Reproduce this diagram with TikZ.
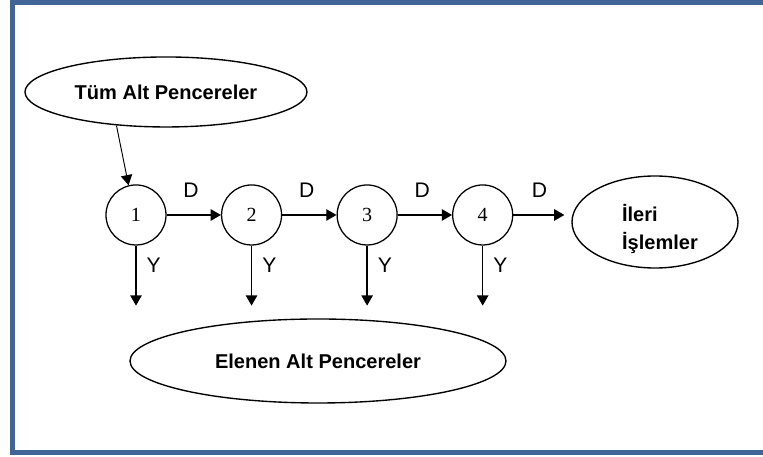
\documentclass[tikz,border=0pt]{standalone}
\usepackage{fontspec}
\setmainfont{Liberation Serif}
\setsansfont{Liberation Sans}
\usetikzlibrary{positioning,shapes.geometric,arrows.meta}
\definecolor{frameblue}{RGB}{66,101,152}
\begin{document}
\begin{tikzpicture}[
    >={Triangle[length=0.34cm,width=0.38cm]},
    durum/.style={circle,draw,line width=1.2pt,minimum size=2cm,inner sep=0pt,
      font=\fontsize{19}{22}\selectfont},
    kume/.style={ellipse,draw,line width=1.3pt,inner sep=0pt,
      font=\sffamily\bfseries\fontsize{19}{26}\selectfont},
    etiket/.style={font=\sffamily\fontsize{20}{24}\selectfont},
    ok/.style={->,line width=1.2pt}
  ]
    \clip (0,0) rectangle (25.433,15.233);
    \useasboundingbox (0,0) rectangle (25.433,15.233);
    \draw[frameblue,line width=0.15cm] (0.417,0.15) rectangle (25.7,15.15);

    \node[kume,minimum width=9.4cm,minimum height=2.333cm] (tum) at (5.533,12.167) {T\"um Alt Pencereler};
    \node[durum] (d1) at (4.533,8.067) {1};
    \node[durum,right=1.81cm of d1] (d2) {2};
    \node[durum,right=1.81cm of d2] (d3) {3};
    \node[durum,right=1.81cm of d3] (d4) {4};
    \node[kume,minimum width=5.533cm,minimum height=3.067cm,align=left] (ileri) at (21.833,7.833)
      {\hspace*{0.33cm}\rule{0pt}{1.05cm}\.Ileri\\\hspace*{0.33cm}\.I\c{s}lemler};
    \node[kume,minimum width=12.533cm,minimum height=2.8cm] (elenen) at (10.6,3.2) {Elenen Alt Pencereler};

    \draw[ok,line width=0.9pt] (tum.214) -- (d1.104);
    \draw[ok] (d1) -- node[etiket,above=0.45cm,pos=0.45] {D} (d2);
    \draw[ok] (d2) -- node[etiket,above=0.45cm,pos=0.45] {D} (d3);
    \draw[ok] (d3) -- node[etiket,above=0.45cm,pos=0.45] {D} (d4);
    \draw[ok,shorten >=0.23cm] (d4.east) -- node[etiket,above=0.45cm,pos=0.45] {D} (d4.east -| ileri.west);

    \foreach \i in {1,...,4} {
      \coordinate[below=2cm of d\i.south] (y\i);
      \draw[ok] (d\i.south) -- node[etiket,right=0.22cm,pos=0.33] {Y} (y\i);
    }
\end{tikzpicture}
\end{document}
